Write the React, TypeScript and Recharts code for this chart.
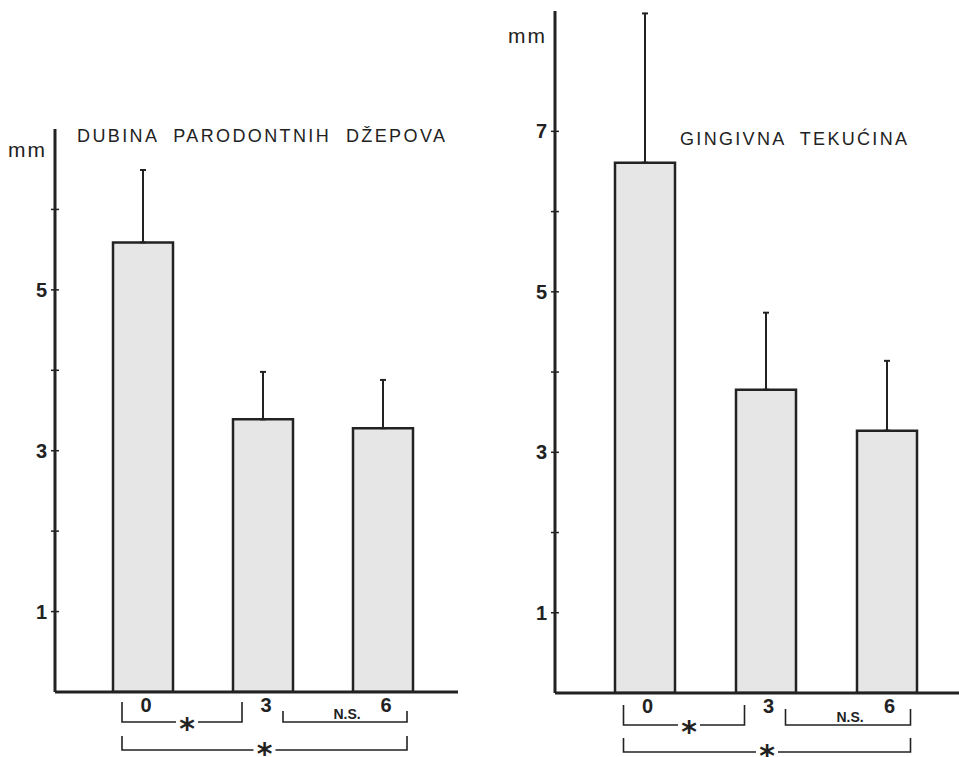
import React from 'react';
import { BarChart, Bar, XAxis, YAxis, ErrorBar } from 'recharts';

// ---- data ----
const months = ['0', '3', '6'];
const pocketDepthMean = [5.59, 3.39, 3.28];
const pocketDepthSD = [0.9, 0.59, 0.6];
const fluidMean = [6.61, 3.78, 3.27];
const fluidSD = [1.86, 0.96, 0.87];
const leftTicks = [1, 2, 3, 4, 5, 6];
const rightTicks = [1, 2, 3, 4, 5, 6, 7];
const leftTitle = 'DUBINA  PARODONTNIH  DŽEPOVA';
const rightTitle = 'GINGIVNA  TEKUĆINA';
const unitLabel = 'mm';
const sigLabels = ['*', 'N.S.', '*'];

const pocketData = months.map((m, i) => ({ month: m, value: pocketDepthMean[i], err: [0, pocketDepthSD[i]] }));
const fluidData = months.map((m, i) => ({ month: m, value: fluidMean[i], err: [0, fluidSD[i]] }));

// ---- style / layout ----
const INK = '#222222';
const FONT = '"Liberation Sans", Arial, Helvetica, sans-serif';
const BAR_FILL = '#e6e6e6';
const Y_AXIS_W = 55;
const X_AXIS_H = 30;

const YTick = (props: any) => {
  const { x, y, payload } = props;
  const v = payload.value;
  return (
    <g>
      <line x1={x - 4} x2={x + 4} y1={y} y2={y} stroke={INK} strokeWidth={1.5} />
      {v % 2 === 1 && (
        <text x={x - 8} y={y + 7} textAnchor="end" fontFamily={FONT} fontWeight="bold" fontSize={20} fill={INK}>
          {v}
        </text>
      )}
    </g>
  );
};

const XTick = (props: any) => {
  const { x, y, payload } = props;
  return (
    <text x={x + 3} y={y + 20} textAnchor="middle" fontFamily={FONT} fontWeight="bold" fontSize={20} fill={INK}>
      {payload.value}
    </text>
  );
};

type Panel = {
  left: number;
  width: number;
  marginTop: number;
  marginRight: number;
  marginBottom: number;
  padLeft: number;
  padRight: number;
  max: number;
  ticks: number[];
  data: any[];
  title: string;
  titleX: number;
  titleY: number;
  titleLen: number;
  titleSize: number;
  unitX: number;
  unitY: number;
  bracketTop: number[];
  bracketBottom: number[];
};

const panels: Panel[] = [
  {
    left: 0, width: 470, marginTop: 129, marginRight: 12, marginBottom: 35,
    padLeft: 28, padRight: 15, max: 7, ticks: leftTicks, data: pocketData,
    title: leftTitle, titleX: 77, titleY: 142, titleLen: 368, titleSize: 18,
    unitX: 8, unitY: 157,
    bracketTop: [702, 711, 736], bracketBottom: [722, 722, 750],
  },
  {
    left: 500, width: 459, marginTop: 11, marginRight: 0, marginBottom: 34,
    padLeft: 29, padRight: 12, max: 8.5, ticks: rightTicks, data: fluidData,
    title: rightTitle, titleX: 680, titleY: 145, titleLen: 227, titleSize: 18,
    unitX: 508, unitY: 43,
    bracketTop: [705, 709, 738], bracketBottom: [725, 725, 752],
  },
];

// category center in page coordinates (same band layout recharts uses)
const center = (p: Panel, i: number) => {
  const axisX = p.left + Y_AXIS_W;
  const plotRight = p.left + p.width - p.marginRight;
  const band = (plotRight - axisX - p.padLeft - p.padRight) / months.length;
  return axisX + p.padLeft + band * (i + 0.5);
};

const Asterisk = ({ x, y }: { x: number; y: number }) => (
  <text x={x} y={y + 17} textAnchor="middle" fontFamily='"DejaVu Sans", sans-serif' fontWeight="bold" fontSize={30} fill={INK}>
    {sigLabels[0]}
  </text>
);

const Brackets = ({ p }: { p: Panel }) => {
  const c0 = center(p, 0);
  const c1 = center(p, 1);
  const c2 = center(p, 2);
  const a1 = c0 - 21;
  const b1 = c1 - 21;
  const a2 = c1 + 20;
  const b2 = c2 + 24;
  const [t1, t2, t3] = p.bracketTop;
  const [y1, y2, y3] = p.bracketBottom;
  const s1 = (a1 + b1) / 2 + 5;
  const s3 = (a1 + b2) / 2;
  const sw = 1.6;
  const gap = 11;
  return (
    <g stroke={INK} strokeWidth={sw} fill="none">
      {/* 0 vs 3 */}
      <path d={`M${a1},${t1} V${y1} H${s1 - gap} M${s1 + gap},${y1} H${b1} V${t1}`} />
      <g stroke="none"><Asterisk x={s1} y={y1} /></g>
      {/* 3 vs 6 */}
      <path d={`M${a2},${t2} V${y2} H${b2} V${t2}`} />
      <text x={(a2 + b2) / 2 + 2} y={y2 - 3} textAnchor="middle" stroke="none" fill={INK} fontFamily={FONT} fontWeight="bold" fontSize={14}>
        {sigLabels[1]}
      </text>
      {/* 0 vs 6 */}
      <path d={`M${a1},${t3} V${y3} H${s3 - gap} M${s3 + gap},${y3} H${b2} V${t3}`} />
      <g stroke="none"><Asterisk x={s3} y={y3 - 3} /></g>
    </g>
  );
};

const ChartPanel = ({ p }: { p: Panel }) => (
  <div style={{ position: 'absolute', left: p.left, top: 0 }}>
    <BarChart
      width={p.width}
      height={757}
      data={p.data}
      margin={{ top: p.marginTop, right: p.marginRight, bottom: p.marginBottom, left: 0 }}
    >
      <XAxis
        dataKey="month"
        height={X_AXIS_H}
        padding={{ left: p.padLeft, right: p.padRight }}
        axisLine={{ stroke: INK, strokeWidth: 3 }}
        tickLine={false}
        tickSize={0}
        tickMargin={0}
        tick={<XTick />}
        interval={0}
      />
      <YAxis
        width={Y_AXIS_W}
        domain={[0, p.max]}
        ticks={p.ticks}
        allowDataOverflow
        axisLine={{ stroke: INK, strokeWidth: 3 }}
        tickLine={false}
        tickSize={0}
        tickMargin={0}
        tick={<YTick />}
        interval={0}
      />
      <Bar dataKey="value" barSize={60} fill={BAR_FILL} stroke={INK} strokeWidth={2.5} isAnimationActive={false}>
        <ErrorBar dataKey="err" direction="y" width={3} stroke={INK} strokeWidth={2} />
      </Bar>
    </BarChart>
  </div>
);

export default function App() {
  return (
    <div style={{ position: 'absolute', left: 0, top: 0, width: 959, height: 757, background: '#ffffff', overflow: 'hidden' }}>
      {panels.map((p, i) => (
        <ChartPanel key={i} p={p} />
      ))}
      <svg width={959} height={757} style={{ position: 'absolute', left: 0, top: 0, pointerEvents: 'none' }}>
        {panels.map((p, i) => (
          <g key={i}>
            <text x={p.unitX} y={p.unitY} fontFamily={FONT} fontSize={21} fill={INK} letterSpacing={2}>
              {unitLabel}
            </text>
            <text x={p.titleX} y={p.titleY} fontFamily={FONT} fontSize={p.titleSize} fill={INK} textLength={p.titleLen} lengthAdjust="spacing" style={{ whiteSpace: 'pre' }}>
              {p.title}
            </text>
            <Brackets p={p} />
          </g>
        ))}
      </svg>
    </div>
  );
}
